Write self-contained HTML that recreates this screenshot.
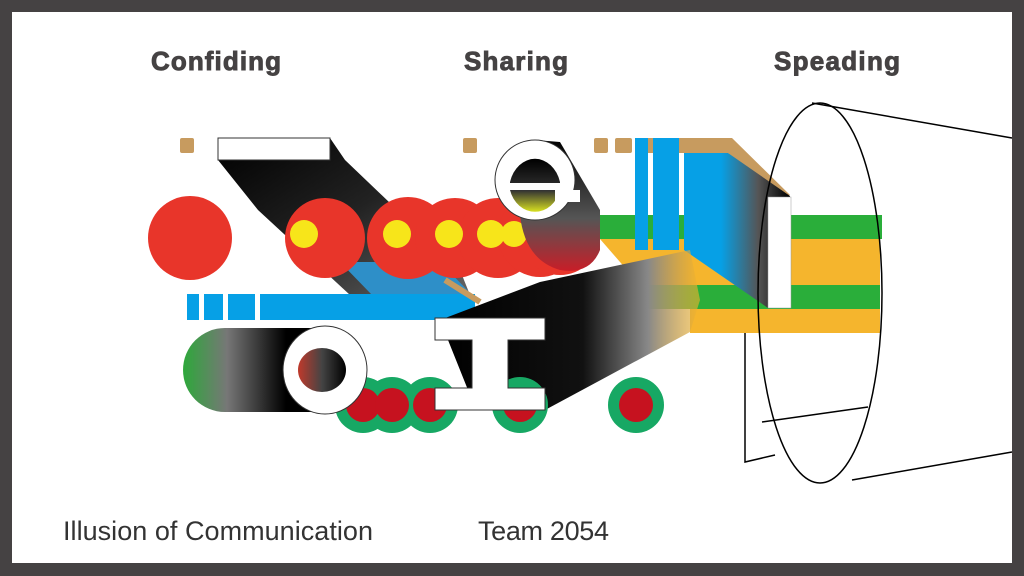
<!DOCTYPE html>
<html><head><meta charset="utf-8"><style>
html,body{margin:0;padding:0;background:#454243;}
svg{display:block}
</style></head><body>
<svg width="1024" height="576" viewBox="0 0 1024 576" xmlns="http://www.w3.org/2000/svg">
<defs>
<linearGradient id="bkd" x1="0" y1="0" x2="1" y2="1"><stop offset="0" stop-color="#000"/><stop offset="0.5" stop-color="#222"/><stop offset="1" stop-color="#666"/></linearGradient>
<linearGradient id="pill" x1="0" y1="0" x2="1" y2="0"><stop offset="0" stop-color="#2da83a"/><stop offset="0.3" stop-color="#777"/><stop offset="0.7" stop-color="#000"/><stop offset="1" stop-color="#000"/></linearGradient>
<linearGradient id="bigsh" x1="0" y1="0" x2="1" y2="0"><stop offset="0" stop-color="#000"/><stop offset="0.55" stop-color="#111"/><stop offset="0.8" stop-color="#888"/><stop offset="1" stop-color="#f3b32b" stop-opacity="0.6"/></linearGradient>
<linearGradient id="blueblk" x1="0" y1="0" x2="1" y2="0"><stop offset="0" stop-color="#06a0e6"/><stop offset="0.35" stop-color="#06a0e6"/><stop offset="0.7" stop-color="#555"/><stop offset="1" stop-color="#000"/></linearGradient>
<linearGradient id="esh" x1="0" y1="0" x2="0" y2="1"><stop offset="0" stop-color="#000"/><stop offset="0.6" stop-color="#555"/><stop offset="1" stop-color="#c81e28"/></linearGradient>
<linearGradient id="oin" x1="0" y1="0" x2="1" y2="0"><stop offset="0" stop-color="#c0392b"/><stop offset="0.5" stop-color="#444"/><stop offset="1" stop-color="#000"/></linearGradient>
<linearGradient id="ein" x1="0" y1="0" x2="0" y2="1"><stop offset="0" stop-color="#000"/><stop offset="0.6" stop-color="#333"/><stop offset="1" stop-color="#d8e020"/></linearGradient>
</defs>
<rect x="12" y="12" width="1000" height="551" fill="#fff"/>
<g font-family="Liberation Sans, sans-serif" font-weight="bold" font-size="26" fill="#454243" stroke="#454243" stroke-width="0.9" text-anchor="middle">
<text x="216" y="70" textLength="130">Confiding</text>
<text x="516" y="70" textLength="104">Sharing</text>
<text x="837" y="70" textLength="126">Speading</text>
</g>
<g font-family="Liberation Sans, sans-serif" font-size="27" fill="#333">
<text x="63" y="540" textLength="310">Illusion of Communication</text>
<text x="478" y="540" textLength="131">Team 2054</text>
</g>
<rect x="600" y="215" width="282" height="24" fill="#2aae3a"/>
<rect x="690" y="239" width="190" height="46" fill="#f5b52d"/>
<polygon points="600,239 690,239 720,285 640,285" fill="#f5b52d"/>
<rect x="645" y="285" width="235" height="24" fill="#2aae3a"/>
<rect x="690" y="309" width="190" height="24" fill="#f5b52d"/>
<g fill="#c79b5f">
<rect x="180" y="138" width="14" height="15" rx="2"/>
<rect x="463" y="138" width="14" height="15" rx="2"/>
<rect x="594" y="138" width="14" height="15" rx="2"/>
<rect x="615" y="138" width="17" height="15" rx="2"/>
<rect x="642" y="138" width="28" height="15" rx="2"/>
<polygon points="678,138 732,138 790,195 768,197 728,153 678,153"/>
</g>
<rect x="635" y="138" width="13" height="112" fill="#06a0e6"/>
<rect x="653" y="138" width="26" height="112" fill="#06a0e6"/>
<polygon points="684,153 728,153 790,196 768,308 684,250" fill="url(#blueblk)"/>
<rect x="768" y="197" width="23" height="111" fill="#fff" stroke="#999" stroke-width="0.5"/>
<polygon points="218,160 330,138 345,160 460,270 470,295 350,295 258,210" fill="url(#bkd)"/>
<polygon points="340,262 440,262 472,295 372,295" fill="#2e8fc8"/>
<rect x="218" y="138" width="112" height="22" fill="#fff" stroke="#333" stroke-width="1"/>
<g fill="#06a0e6">
<rect x="187" y="294" width="12" height="26"/>
<rect x="204" y="294" width="19" height="26"/>
<rect x="228" y="294" width="27" height="26"/>
<rect x="260" y="294" width="215" height="26"/>
</g>
<line x1="445" y1="280" x2="480" y2="302" stroke="#c79b5f" stroke-width="6"/>
<circle cx="190" cy="238" r="42" fill="#e8352a"/>
<g fill="#e8352a">
<circle cx="325" cy="238" r="40"/><circle cx="408" cy="238" r="41"/><circle cx="455" cy="238" r="40"/><circle cx="498" cy="238" r="40"/><circle cx="540" cy="235" r="42"/><circle cx="560" cy="235" r="40"/>
</g>
<g fill="#f7e51a">
<circle cx="304" cy="234" r="14"/><circle cx="397" cy="234" r="14"/><circle cx="449" cy="234" r="14"/><circle cx="491" cy="234" r="14"/><circle cx="514" cy="234" r="13"/>
</g>
<path d="M535,140 L560,142 L600,210 L600,250 Q590,275 560,270 Q525,260 520,215 Z" fill="url(#esh)"/>
<circle cx="535" cy="180" r="40" fill="#fff" stroke="#333" stroke-width="1"/>
<path d="M510,182 A26,32 0 0 1 560,182 L560,190 A26,30 0 0 1 510,190 Z" fill="url(#ein)"/>
<rect x="505" y="183" width="60" height="7" fill="#fff"/>
<rect x="555" y="190" width="25" height="12" fill="#fff"/>
<polygon points="440,320 540,282 690,250 700,300 690,332 545,410 470,395" fill="url(#bigsh)"/>
<path d="M225,328 L330,328 L330,412 L225,412 A42,42 0 0 1 225,328 Z" fill="url(#pill)"/>
<g fill="#17a864">
<circle cx="363" cy="405" r="28"/><circle cx="392" cy="405" r="28"/><circle cx="430" cy="405" r="28"/><circle cx="520" cy="405" r="28"/><circle cx="636" cy="405" r="28"/>
</g>
<g fill="#c6121f">
<circle cx="363" cy="405" r="17"/><circle cx="392" cy="405" r="17"/><circle cx="430" cy="405" r="17"/><circle cx="520" cy="405" r="17"/><circle cx="636" cy="405" r="17"/>
</g>
<ellipse cx="325" cy="370" rx="42" ry="44" fill="#fff" stroke="#333" stroke-width="1"/>
<ellipse cx="322" cy="370" rx="24" ry="22" fill="url(#oin)"/>
<path d="M435,318 H545 V340 H508 V388 H545 V410 H435 V388 H472 V340 H435 Z" fill="#fff" stroke="#333" stroke-width="1"/>
<g fill="none" stroke="#000" stroke-width="1.5">
<ellipse cx="820" cy="293" rx="62" ry="190"/>
<line x1="812" y1="103" x2="1012" y2="138"/>
<line x1="852" y1="480" x2="1012" y2="452"/>
<polyline points="745,333 745,462 775,455"/>
<line x1="762" y1="422" x2="868" y2="407"/>
</g>
<rect x="1012" y="0" width="12" height="576" fill="#454243"/>
</svg>
</body></html>
